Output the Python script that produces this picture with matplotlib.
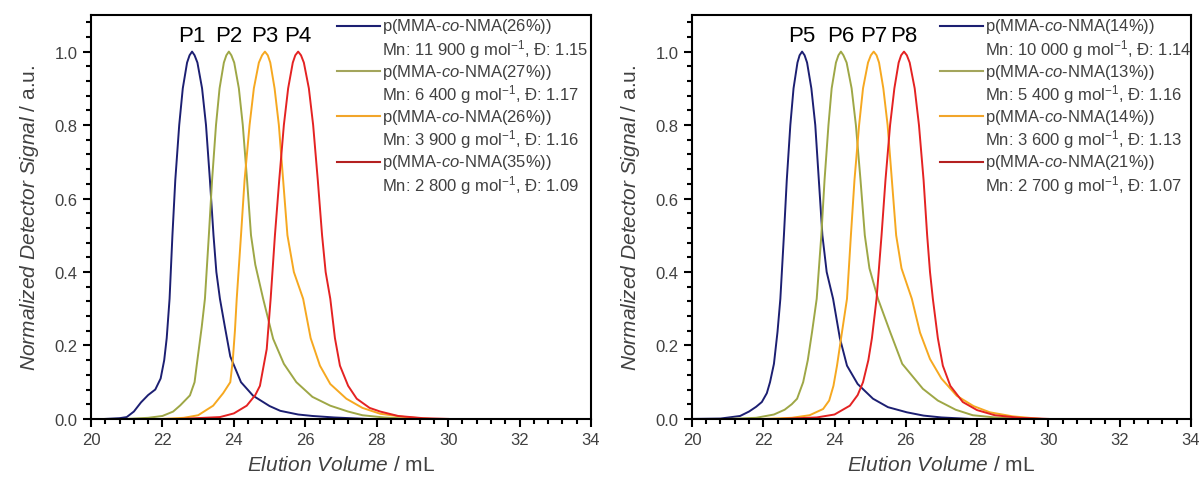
import matplotlib
matplotlib.use("Agg")
import matplotlib.pyplot as plt
from matplotlib.ticker import MultipleLocator

plt.rcParams['font.family'] = ['Liberation Sans', 'DejaVu Sans']
plt.rcParams['mathtext.fontset'] = 'custom'
plt.rcParams['mathtext.rm'] = 'Liberation Sans'
plt.rcParams['mathtext.it'] = 'Liberation Sans:italic'

# --- data: elution volume (mL) / normalized signal ---
p1_v = [20.4, 20.8, 21.0, 21.2, 21.4, 21.6, 21.8, 21.95, 22.05, 22.12, 22.2, 22.28, 22.36, 22.47, 22.57, 22.69, 22.76, 22.83,
        22.9, 22.98, 23.11, 23.22, 23.33, 23.43, 23.51, 23.61, 23.75, 23.9, 24.2, 24.54, 25.0, 25.3, 25.8, 26.2, 26.8, 27.7]
p1_s = [0.0, 0.002, 0.005, 0.02, 0.045, 0.065, 0.08, 0.11, 0.16, 0.22, 0.327, 0.5, 0.65, 0.8, 0.9, 0.97, 0.99, 1.0,
        0.99, 0.97, 0.9, 0.8, 0.65, 0.5, 0.4, 0.327, 0.25, 0.17, 0.1, 0.063, 0.035, 0.022, 0.012, 0.008, 0.004, 0.0]

p2_v = [21.0, 21.6, 22.0, 22.3, 22.5, 22.77, 22.9, 22.96, 23.1, 23.19, 23.3, 23.39, 23.5, 23.6, 23.72, 23.79, 23.86,
        23.93, 24.01, 24.14, 24.25, 24.37, 24.48, 24.6, 24.82, 25.1, 25.4, 25.75, 26.2, 26.7, 27.2, 27.6, 28.2, 29.0]
p2_s = [0.0, 0.003, 0.008, 0.02, 0.037, 0.064, 0.1, 0.146, 0.25, 0.327, 0.5, 0.65, 0.8, 0.9, 0.97, 0.99, 1.0,
        0.99, 0.97, 0.9, 0.8, 0.65, 0.5, 0.42, 0.327, 0.218, 0.15, 0.1, 0.06, 0.036, 0.02, 0.01, 0.004, 0.0]

p3_v = [22.0, 22.6, 23.0, 23.42, 23.7, 23.9, 23.97, 24.03, 24.08, 24.2, 24.3, 24.44, 24.56, 24.7, 24.79, 24.87,
        24.95, 25.02, 25.14, 25.26, 25.38, 25.5, 25.68, 25.94, 26.15, 26.41, 26.7, 27.15, 27.6, 28.1, 28.8, 29.5]
p3_s = [0.0, 0.003, 0.01, 0.036, 0.07, 0.1, 0.16, 0.24, 0.327, 0.5, 0.65, 0.8, 0.9, 0.97, 0.99, 1.0,
        0.99, 0.97, 0.9, 0.8, 0.65, 0.5, 0.4, 0.327, 0.22, 0.145, 0.095, 0.055, 0.03, 0.014, 0.005, 0.0]

p4_v = [22.5, 23.61, 24.0, 24.36, 24.6, 24.73, 24.92, 25.03, 25.15, 25.27, 25.4, 25.52, 25.65, 25.72, 25.8,
        25.88, 25.96, 26.1, 26.22, 26.35, 26.47, 26.57, 26.7, 26.83, 26.97, 27.2, 27.44, 27.8, 28.1, 28.6, 29.3, 30.0]
p4_s = [0.0, 0.005, 0.015, 0.036, 0.065, 0.09, 0.19, 0.327, 0.5, 0.65, 0.8, 0.9, 0.97, 0.99, 1.0,
        0.99, 0.97, 0.9, 0.8, 0.65, 0.5, 0.4, 0.327, 0.22, 0.145, 0.09, 0.055, 0.03, 0.02, 0.008, 0.002, 0.0]

p5_v = [20.0, 20.8, 21.35, 21.6, 21.8, 21.96, 22.1, 22.19, 22.3, 22.4, 22.48, 22.58, 22.66, 22.76, 22.85, 22.96, 23.02, 23.09,
        23.16, 23.23, 23.35, 23.46, 23.56, 23.66, 23.78, 23.96, 24.15, 24.35, 24.65, 25.08, 25.5, 26.03, 26.5, 27.0, 27.8]
p5_s = [0.0, 0.001, 0.008, 0.02, 0.033, 0.046, 0.07, 0.1, 0.15, 0.237, 0.327, 0.5, 0.65, 0.8, 0.9, 0.97, 0.99, 1.0,
        0.99, 0.97, 0.9, 0.8, 0.65, 0.5, 0.4, 0.327, 0.22, 0.145, 0.095, 0.055, 0.032, 0.018, 0.009, 0.004, 0.0]

p6_v = [21.0, 21.8, 22.3, 22.6, 22.8, 22.95, 23.12, 23.25, 23.37, 23.5, 23.63, 23.72, 23.83, 23.92, 24.04, 24.11, 24.18,
        24.25, 24.34, 24.48, 24.6, 24.73, 24.85, 24.98, 25.22, 25.56, 25.9, 26.48, 26.9, 27.4, 27.88, 28.5, 29.3]
p6_s = [0.0, 0.003, 0.012, 0.025, 0.04, 0.055, 0.1, 0.16, 0.237, 0.327, 0.5, 0.65, 0.8, 0.9, 0.97, 0.99, 1.0,
        0.99, 0.97, 0.9, 0.8, 0.65, 0.5, 0.41, 0.327, 0.237, 0.15, 0.082, 0.05, 0.025, 0.01, 0.004, 0.0]

p7_v = [22.0, 22.8, 23.3, 23.68, 23.85, 23.97, 24.07, 24.2, 24.35, 24.46, 24.56, 24.69, 24.8, 24.94, 25.02, 25.1,
        25.18, 25.25, 25.37, 25.49, 25.61, 25.73, 25.88, 26.17, 26.4, 26.68, 27.0, 27.43, 27.9, 28.36, 29.0, 29.8]
p7_s = [0.0, 0.003, 0.01, 0.027, 0.05, 0.09, 0.145, 0.23, 0.327, 0.5, 0.65, 0.8, 0.9, 0.97, 0.99, 1.0,
        0.99, 0.97, 0.9, 0.8, 0.65, 0.5, 0.41, 0.327, 0.235, 0.163, 0.11, 0.063, 0.035, 0.018, 0.007, 0.0]

p8_v = [22.5, 23.5, 24.0, 24.43, 24.65, 24.8, 24.95, 25.05, 25.18, 25.32, 25.43, 25.56, 25.68, 25.8, 25.87, 25.95,
        26.03, 26.11, 26.25, 26.37, 26.5, 26.6, 26.68, 26.76, 26.9, 27.04, 27.25, 27.6, 28.0, 28.5, 29.2, 30.0]
p8_s = [0.0, 0.004, 0.012, 0.036, 0.065, 0.1, 0.16, 0.22, 0.327, 0.5, 0.65, 0.8, 0.9, 0.97, 0.99, 1.0,
        0.99, 0.97, 0.9, 0.8, 0.65, 0.5, 0.4, 0.327, 0.22, 0.145, 0.09, 0.046, 0.024, 0.01, 0.003, 0.0]

left_names = ["P1", "P2", "P3", "P4"]
left_peaks = [22.83, 23.86, 24.87, 25.8]
left_nma = ["26%", "27%", "26%", "35%"]
left_mn = ["11 900", "6 400", "3 900", "2 800"]
left_disp = ["1.15", "1.17", "1.16", "1.09"]

right_names = ["P5", "P6", "P7", "P8"]
right_peaks = [23.09, 24.18, 25.1, 25.95]
right_nma = ["14%", "13%", "14%", "21%"]
right_mn = ["10 000", "5 400", "3 600", "2 700"]
right_disp = ["1.14", "1.16", "1.13", "1.07"]

colors = ["#1c1f72", "#9ea746", "#f6a820", "#e42222"]
legend_colors = ["#1c1f72", "#a3a55c", "#f2a52a", "#b42020"]
text_gray = "#404040"

fig = plt.figure(figsize=(12.02, 4.81), dpi=100)
ax1 = fig.add_axes([0.0757, 0.127, 0.416, 0.840])
ax2 = fig.add_axes([0.5757, 0.127, 0.415, 0.840])


def draw_panel(ax, curves, names, peaks, nma, mn, disp, leg_x):
    for (v, s), c in zip(curves, colors):
        ax.plot(v, s, color=c, lw=1.4)
    for n, pk in zip(names, peaks):
        ax.text(pk, 1.045, n, ha="center", va="center", fontsize=16, color="black")

    # legend drawn by hand: handle on first line, Mn/Đ on second
    dy = 0.056
    y0 = 0.973
    for i in range(4):
        y = y0 - 2 * i * dy
        ax.plot([leg_x, leg_x + 0.086], [y, y], color=legend_colors[i], lw=1.5, transform=ax.transAxes)
        ax.text(leg_x + 0.09, y, "p(MMA-$\\mathit{co}$-NMA(" + nma[i] + "))", transform=ax.transAxes,
                ha="left", va="center", fontsize=12, color=text_gray)
        ax.text(leg_x + 0.09, y - dy, "Mn: " + mn[i] + " g mol$^{-1}$, Đ: " + disp[i], transform=ax.transAxes,
                ha="left", va="center", fontsize=12, color=text_gray)

    ax.set_xlim(20, 34)
    ax.set_ylim(0, 1.1)
    ax.xaxis.set_major_locator(MultipleLocator(2))
    ax.xaxis.set_minor_locator(MultipleLocator(0.4))
    ax.yaxis.set_major_locator(MultipleLocator(0.2))
    ax.yaxis.set_minor_locator(MultipleLocator(0.04))
    ax.tick_params(which="major", direction="out", length=6, width=1.5, labelsize=12, labelcolor=text_gray)
    ax.tick_params(which="minor", direction="out", length=3.5, width=1.5)
    ax.tick_params(top=False, right=False)
    for sp in ax.spines.values():
        sp.set_linewidth(1.5)
    ax.set_xlabel(r"$\mathit{Elution\ Volume}$ / mL", fontsize=15, color=text_gray, labelpad=6)
    ax.set_ylabel(r"$\mathit{Normalized\ Detector\ Signal}$ / a.u.", fontsize=15, color=text_gray, labelpad=10)


draw_panel(ax1, [(p1_v, p1_s), (p2_v, p2_s), (p3_v, p3_s), (p4_v, p4_s)],
           left_names, left_peaks, left_nma, left_mn, left_disp, 0.492)
draw_panel(ax2, [(p5_v, p5_s), (p6_v, p6_s), (p7_v, p7_s), (p8_v, p8_s)],
           right_names, right_peaks, right_nma, right_mn, right_disp, 0.497)

fig.savefig("out.png", dpi=100)
